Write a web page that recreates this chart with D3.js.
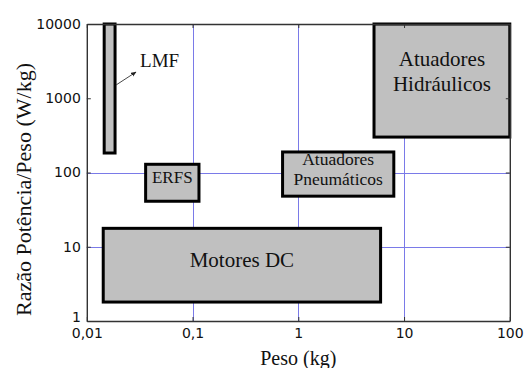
<!DOCTYPE html>
<html>
<head>
<meta charset="utf-8">
<script src="https://cdn.jsdelivr.net/npm/d3@7"></script>
<style>
  body { margin: 0; background: #fff; }
  svg { display: block; }
  .serif { font-family: "Liberation Serif", "Times New Roman", Times, "DejaVu Serif", serif; }
  .sans { font-family: "DejaVu Sans", "Liberation Sans", Arial, sans-serif; }
</style>
</head>
<body>
<svg id="chart" width="524" height="368"></svg>
<script>
// Power-to-weight ratio vs. weight of actuator technologies (log-log)
const categories = ["LMF", "ERFS", "Atuadores Pneumáticos", "Motores DC", "Atuadores Hidráulicos"];
const labelLines = [["LMF"], ["ERFS"], ["Atuadores", "Pneumáticos"], ["Motores DC"], ["Atuadores", "Hidráulicos"]];
const pesoMin  = [0.0146, 0.036, 0.71, 0.0143, 5.2];   // kg
const pesoMax  = [0.0185, 0.115, 8.0, 6.0, 100];      // kg
const razaoMin = [183, 41, 48, 1.8, 300];             // W/kg
const razaoMax = [10000, 129, 189, 17.7, 10000];      // W/kg

const xTicks = [0.01, 0.1, 1, 10, 100];
const xTickLabels = ["0,01", "0,1", "1", "10", "100"];
const yTicks = [1, 10, 100, 1000, 10000];
const yTickLabels = ["1", "10", "100", "1000", "10000"];
const xGridValues = [0.1, 1, 10];
const yGridValues = [10, 100];

const xTitle = "Peso (kg)";
const yTitle = "Razão Potência/Peso (W/kg)";

const svg = d3.select("#chart");
const plot = { left: 86.8, right: 509.8, top: 24, bottom: 321 };

const x = d3.scaleLog().domain([0.01, 100]).range([plot.left, plot.right]);
const y = d3.scaleLog().domain([1, 10000]).range([plot.bottom, plot.top]);

// grid
const grid = svg.append("g").attr("stroke", "#7a7ae8").attr("stroke-width", 1);
grid.selectAll("line.gx").data(xGridValues).join("line")
  .attr("x1", d => Math.round(x(d)) + 0.5).attr("x2", d => Math.round(x(d)) + 0.5)
  .attr("y1", plot.top).attr("y2", plot.bottom);
grid.selectAll("line.gy").data(yGridValues).join("line")
  .attr("y1", d => Math.round(y(d)) + 0.5).attr("y2", d => Math.round(y(d)) + 0.5)
  .attr("x1", plot.left).attr("x2", plot.right);

// boxes
const boxes = categories.map((c, i) => ({
  name: c, lines: labelLines[i],
  x0: x(pesoMin[i]), x1: x(pesoMax[i]),
  y0: y(razaoMax[i]), y1: y(razaoMin[i])
}));

svg.append("g").selectAll("rect").data(boxes).join("rect")
  .attr("x", d => d.x0).attr("y", d => d.y0)
  .attr("width", d => d.x1 - d.x0).attr("height", d => d.y1 - d.y0)
  .attr("fill", "#c0c0c0").attr("stroke", "#000").attr("stroke-width", 3);

// labels inside boxes
const labelSize = { "ERFS": 17, "Atuadores Pneumáticos": 17.5, "Motores DC": 21, "Atuadores Hidráulicos": 21 };
const labelShift = { "ERFS": -5, "Atuadores Pneumáticos": -5, "Motores DC": -5, "Atuadores Hidráulicos": -9 };
boxes.filter(d => d.name !== "LMF").forEach(d => {
  const fs = labelSize[d.name];
  const lh = fs * 1.15;
  const cx = (d.x0 + d.x1) / 2;
  const cy = (d.y0 + d.y1) / 2 + labelShift[d.name];
  const first = cy - (d.lines.length - 1) * lh / 2 + fs * 0.33;
  const t = svg.append("text").attr("class", "serif")
    .attr("font-size", fs).attr("fill", "#111")
    .attr("text-anchor", "middle");
  d.lines.forEach((ln, k) => {
    t.append("tspan").attr("x", cx).attr("y", first + k * lh).text(ln);
  });
});

// LMF label with pointer
const lmf = boxes[0];
svg.append("defs").append("marker")
  .attr("id", "arrow").attr("viewBox", "0 0 10 10").attr("refX", 9).attr("refY", 5)
  .attr("markerWidth", 6).attr("markerHeight", 6).attr("orient", "auto")
  .append("path").attr("d", "M0,1 L10,5 L0,9 Z").attr("fill", "#222");
const lmfLabelX = lmf.x1 + 25, lmfLabelY = lmf.y0 + 43;
svg.append("text").attr("class", "serif").attr("x", lmfLabelX).attr("y", lmfLabelY)
  .attr("font-size", 19).attr("fill", "#111").text(lmf.lines[0]);
svg.append("line")
  .attr("x1", lmf.x1 + 1).attr("y1", lmfLabelY + 18)
  .attr("x2", lmfLabelX - 4).attr("y2", lmfLabelY + 5)
  .attr("stroke", "#333").attr("stroke-width", 0.9).attr("marker-end", "url(#arrow)");

// axes (ticks pointing inward on all four sides)
const styleAxis = g => {
  g.attr("font-family", null);
  g.select(".domain").attr("stroke", "#333").attr("stroke-width", 1.4);
  g.selectAll(".tick line").attr("stroke", "#333").attr("stroke-width", 1);
  g.selectAll(".tick text").attr("class", "sans").attr("font-size", 14).attr("fill", "#111");
};

svg.append("g").attr("transform", `translate(0,${plot.bottom})`)
  .call(d3.axisBottom(x).tickValues(xTicks).tickFormat((d, i) => xTickLabels[i])
    .tickSizeInner(-4).tickSizeOuter(0).tickPadding(7))
  .call(styleAxis);
const yAxisG = svg.append("g").attr("transform", `translate(${plot.left},0)`)
  .call(d3.axisLeft(y).tickValues(yTicks).tickFormat((d, i) => yTickLabels[i])
    .tickSizeInner(-4).tickSizeOuter(0).tickPadding(6))
  .call(styleAxis);
// the lowest label sits a little above its tick, clear of "0,01"
yAxisG.selectAll(".tick").filter(d => d === 1).select("text").attr("y", -4);

svg.append("g").attr("transform", `translate(0,${plot.top})`)
  .call(d3.axisTop(x).tickValues(xTicks).tickFormat("").tickSizeInner(-4).tickSizeOuter(0))
  .call(styleAxis);
svg.append("g").attr("transform", `translate(${plot.right},0)`)
  .call(d3.axisRight(y).tickValues(yTicks).tickFormat("").tickSizeInner(-4).tickSizeOuter(0))
  .call(styleAxis);

// axis titles
svg.append("text").attr("class", "serif")
  .attr("x", (plot.left + plot.right) / 2).attr("y", 365)
  .attr("text-anchor", "middle").attr("font-size", 20).attr("fill", "#111")
  .text(xTitle);
svg.append("text").attr("class", "serif")
  .attr("transform", `translate(31,${(plot.top + plot.bottom) / 2 + 17}) rotate(-90)`)
  .attr("text-anchor", "middle").attr("font-size", 22).attr("fill", "#111")
  .text(yTitle);
</script>
</body>
</html>
